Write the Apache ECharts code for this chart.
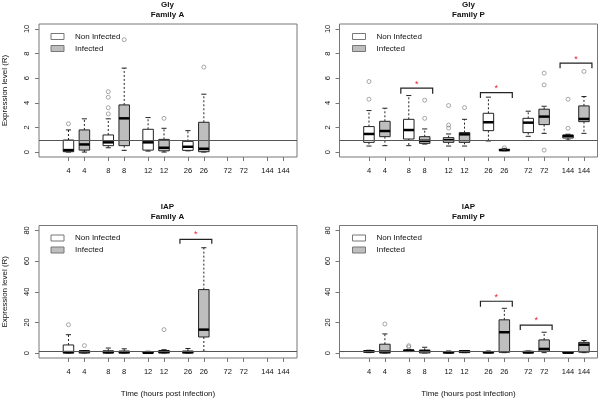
<!DOCTYPE html>
<html>
<head>
<meta charset="utf-8">
<script src="https://cdn.jsdelivr.net/npm/echarts@6/dist/echarts.min.js"></script>
<style>
  html, body { margin: 0; padding: 0; background: #fff; }
  #chart { width: 600px; height: 400px; }
</style>
</head>
<body>
<div id="chart"></div>
<script>
// box positions on the x scale and the labels under them
const positions = [1, 2, 3.5, 4.5, 6, 7, 8.5, 9.5, 11, 12, 13.5, 14.5]
const tickLabels = ['4', '4', '8', '8', '12', '12', '26', '26', '72', '72', '144', '144']

// each stat: [lower whisker, Q1, median, Q3, upper whisker], one per time point
const glyA_non = [[0, 0.03, 0.16, 0.98, 1.8], [0.35, 0.52, 0.79, 1.39, 2.7], [0.08, 0.16, 0.79, 1.85, 2.8], [0.1, 0.14, 0.43, 0.87, 1.74], null, null]
const glyA_inf = [[0, 0.16, 0.62, 1.8, 2.7], [0.14, 0.52, 2.74, 3.83, 6.82], [0, 0.1, 0.35, 1.03, 1.93], [0, 0.03, 0.27, 2.42, 4.7], null, null]
const glyA_outNon = [[2.3], [3.1, 3.6, 4.45, 4.9], [], [], [], []]
const glyA_outInf = [[], [9.13], [2.74], [6.9], [], []]
const glyA_sig = []

const glyP_non = [[0.49, 0.79, 1.47, 2.07, 3.37], [0.52, 1.06, 1.79, 2.66, 4.59], [0.49, 0.79, 0.98, 1.17, 1.47], [0.9, 1.74, 2.42, 3.15, 4.46], [1.28, 1.58, 2.39, 2.74, 3.32], [0.98, 1.14, 1.3, 1.39, 1.45]]
const glyP_inf = [[0.52, 1.25, 1.71, 2.5, 3.56], [0.65, 0.71, 0.92, 1.25, 1.88], [0.49, 0.79, 1.44, 1.58, 2.66], [0.11, 0.14, 0.16, 0.22, 0.3], [1.52, 2.23, 2.88, 3.48, 3.72], [1.52, 2.47, 2.69, 3.75, 4.51]]
const glyP_outNon = [[4.29, 5.73], [], [1.95, 2.2, 3.78], [], [], [1.93, 4.29]]
const glyP_outInf = [[], [2.74, 4.21], [3.61], [0.35], [0.16, 5.46, 6.41], [6.55]]
// significance brackets: [x from, x to, top, leg end, asterisk]
const glyP_sig = [[3, 5, 5.19, 4.73, 5.65], [8, 10, 4.83, 4.4, 5.32], [13, 15, 7.23, 6.8, 7.69]]

const iapA_non = [[0, 0, 0.65, 5.3, 12], [0, 0, 0.65, 1.5, 3.3], [0, 0, 0.2, 0.7, 1.2], [0, 0, 0.65, 1.3, 3], null, null]
const iapA_inf = [[0, 0, 1.1, 1.4, 1.6], [0, 0, 0.65, 1.3, 2.8], [0, 0, 0.9, 1.7, 2.2], [1.1, 10.5, 15.3, 41.4, 68.7], null, null]
const iapA_outNon = [[18.5], [], [], [], [], []]
const iapA_outInf = [[4.9], [], [15.3], [], [], []]
const iapA_sig = [[8, 10, 74.1, 71.3, 78.5]]

const iapP_non = [[0.3, 0.5, 1.2, 1.6, 1.85], [1, 1, 1.6, 2.0, 2.3], [0, 0, 0.5, 1, 1.4], [0.1, 0.1, 0.5, 1.0, 1.4], [0.1, 0.1, 0.5, 1.2, 1.4], [0, 0, 0.3, 0.76, 0.9]]
const iapP_inf = [[0, 0, 1.0, 5.8, 12.5], [0.1, 0.1, 1.4, 1.85, 3.8], [0.3, 0.3, 1.2, 1.6, 1.7], [0.3, 0.5, 13.6, 21.7, 29.2], [0.3, 1.2, 2.7, 8.6, 13.6], [0.3, 0.6, 5.5, 7.0, 8.2]]
const iapP_outNon = [[], [4.0, 4.8], [], [], [], []]
const iapP_outInf = [[19], [], [], [], [], []]
const iapP_sig = [[8, 10, 33.8, 30.3, 37.5], [10.5, 12.5, 18.3, 15, 22.7]]

const panels = [
  { title: 'Gly\nFamily A', non: glyA_non, inf: glyA_inf, outNon: glyA_outNon, outInf: glyA_outInf, sig: glyA_sig, ymax: 10, step: 2, left: 38, top: 24, width: 259, height: 133, yName: 'Expression level (R)', xName: '' },
  { title: 'Gly\nFamily P', non: glyP_non, inf: glyP_inf, outNon: glyP_outNon, outInf: glyP_outInf, sig: glyP_sig, ymax: 10, step: 2, left: 339.5, top: 24, width: 258, height: 133, yName: '', xName: '' },
  { title: 'IAP\nFamily A', non: iapA_non, inf: iapA_inf, outNon: iapA_outNon, outInf: iapA_outInf, sig: iapA_sig, ymax: 80, step: 20, left: 38, top: 225.5, width: 259, height: 132.5, yName: 'Expression level (R)', xName: 'Time (hours post infection)' },
  { title: 'IAP\nFamily P', non: iapP_non, inf: iapP_inf, outNon: iapP_outNon, outInf: iapP_outInf, sig: iapP_sig, ymax: 80, step: 20, left: 339.5, top: 225.5, width: 258, height: 132.5, yName: '', xName: 'Time (hours post infection)' }
]

const font = 'Liberation Sans, Arial, sans-serif'
const frameColor = '#777'

const renderBox = (params, api) => {
  const x = api.value(0)
  const lo = api.value(1), q1 = api.value(2), md = api.value(3), q3 = api.value(4), hi = api.value(5)
  const hw = 0.33, cw = 0.16
  const c = (a, b) => api.coord([a, b])
  const top = c(x - hw, q3), bot = c(x + hw, q1)
  const line = (p1, p2, extra) => ({
    type: 'line',
    shape: { x1: p1[0], y1: p1[1], x2: p2[0], y2: p2[1] },
    style: Object.assign({ stroke: '#222', lineWidth: 1 }, extra || {})
  })
  return {
    type: 'group',
    children: [
      line(c(x, q3), c(x, hi), { lineDash: [2, 2] }),
      line(c(x, q1), c(x, lo), { lineDash: [2, 2] }),
      line(c(x - cw, hi), c(x + cw, hi)),
      line(c(x - cw, lo), c(x + cw, lo)),
      {
        type: 'rect',
        shape: { x: top[0], y: top[1], width: bot[0] - top[0], height: Math.max(bot[1] - top[1], 1) },
        style: { fill: api.visual('color'), stroke: '#222', lineWidth: 1 }
      },
      line(c(x - hw, md), c(x + hw, md), { lineWidth: 2.5, stroke: '#000' })
    ]
  }
}

const renderSig = (params, api) => {
  const x1 = api.value(0), x2 = api.value(1), yt = api.value(2), yl = api.value(3), ys = api.value(4)
  const a = api.coord([x1, yl]), b = api.coord([x1, yt]), cc = api.coord([x2, yt]), d = api.coord([x2, yl])
  const s = api.coord([(x1 + x2) / 2, ys])
  return {
    type: 'group',
    children: [
      { type: 'polyline', shape: { points: [a, b, cc, d] }, style: { stroke: '#222', lineWidth: 1.2, fill: null } },
      { type: 'text', x: s[0], y: s[1] + 2, style: { text: '*', fill: '#e8202a', fontSize: 9, fontFamily: font, align: 'center', verticalAlign: 'middle' } }
    ]
  }
}

const boxData = (stats, offset) => {
  const out = []
  stats.forEach((s, i) => { if (s) out.push([positions[i * 2 + offset]].concat(s)) })
  return out
}
const outlierData = (outs, offset) => {
  const out = []
  outs.forEach((vals, i) => vals.forEach(v => out.push([positions[i * 2 + offset], v])))
  return out
}

const option = {
  animation: false,
  textStyle: { fontFamily: font },
  title: [], legend: [], grid: [], xAxis: [], yAxis: [], series: []
}

panels.forEach((p, k) => {
  const pad = p.ymax * 0.04
  option.title.push({
    text: p.title,
    left: p.left + p.width / 2,
    top: p.top - 24,
    textAlign: 'center',
    padding: 0,
    textStyle: { fontSize: 8, fontWeight: 'bold', lineHeight: 10, color: '#111', fontFamily: font }
  })
  const legendItem = (name, color) => ({ name: name, icon: 'rect', itemStyle: { color: color, borderColor: frameColor, borderWidth: 1 } })
  option.legend.push({
    left: p.left + 12.5,
    top: p.top + 7.5,
    orient: 'vertical',
    padding: 0,
    itemWidth: 13,
    itemHeight: 6,
    itemGap: 2,
    selectedMode: false,
    data: [legendItem('Non Infected', '#ffffff'), legendItem('Infected', '#bebebe')],
    textStyle: { fontSize: 8, lineHeight: 10, color: '#111', fontFamily: font, padding: [0, 0, 0, 6] }
  })
  option.grid.push({ left: p.left, top: p.top, width: p.width, height: p.height, show: true, borderColor: frameColor, borderWidth: 1, backgroundColor: 'transparent' })
  option.xAxis.push({
    type: 'value', gridIndex: k, min: -0.85, max: 15.35,
    name: p.xName, nameLocation: 'middle', nameGap: 32,
    nameTextStyle: { fontSize: 8, color: '#111', fontFamily: font },
    axisLine: { show: false, onZero: false },
    splitLine: { show: false },
    axisTick: { show: true, customValues: positions, length: 4, lineStyle: { color: frameColor } },
    axisLabel: {
      customValues: positions, margin: 10, fontSize: 7.5, color: '#111', fontFamily: font,
      formatter: v => tickLabels[positions.indexOf(v)] || ''
    }
  })
  const yTicks = []
  for (let v = 0; v <= p.ymax; v += p.step) yTicks.push(v)
  option.yAxis.push({
    type: 'value', gridIndex: k, min: -pad, max: p.ymax + pad,
    name: p.yName, nameLocation: 'middle', nameGap: 30, nameRotate: 90,
    nameTextStyle: { fontSize: 8, color: '#111', fontFamily: font },
    axisLine: { show: false, onZero: false },
    splitLine: { show: false },
    axisTick: { show: true, customValues: yTicks, length: 4, lineStyle: { color: frameColor } },
    axisLabel: { customValues: yTicks, rotate: 90, margin: 8, fontSize: 7.5, color: '#111', fontFamily: font }
  })
  option.series.push({
    name: 'Non Infected', type: 'custom', xAxisIndex: k, yAxisIndex: k,
    itemStyle: { color: '#ffffff' },
    renderItem: renderBox, data: boxData(p.non, 0),
    markLine: {
      silent: true, symbol: 'none', label: { show: false },
      lineStyle: { color: '#555', type: 'solid', width: 1 },
      data: [{ yAxis: 1 }]
    }
  })
  option.series.push({
    name: 'Infected', type: 'custom', xAxisIndex: k, yAxisIndex: k,
    itemStyle: { color: '#bebebe' },
    renderItem: renderBox, data: boxData(p.inf, 1)
  })
  option.series.push({
    name: 'outliers', type: 'scatter', xAxisIndex: k, yAxisIndex: k,
    symbol: 'circle', symbolSize: 4,
    itemStyle: { color: 'rgba(255,255,255,0)', borderColor: '#777', borderWidth: 0.8 },
    data: outlierData(p.outNon, 0).concat(outlierData(p.outInf, 1))
  })
  option.series.push({
    name: 'significance', type: 'custom', xAxisIndex: k, yAxisIndex: k,
    renderItem: renderSig, data: p.sig
  })
})

const chart = echarts.init(document.getElementById('chart'))
chart.setOption(option)
</script>
</body>
</html>
